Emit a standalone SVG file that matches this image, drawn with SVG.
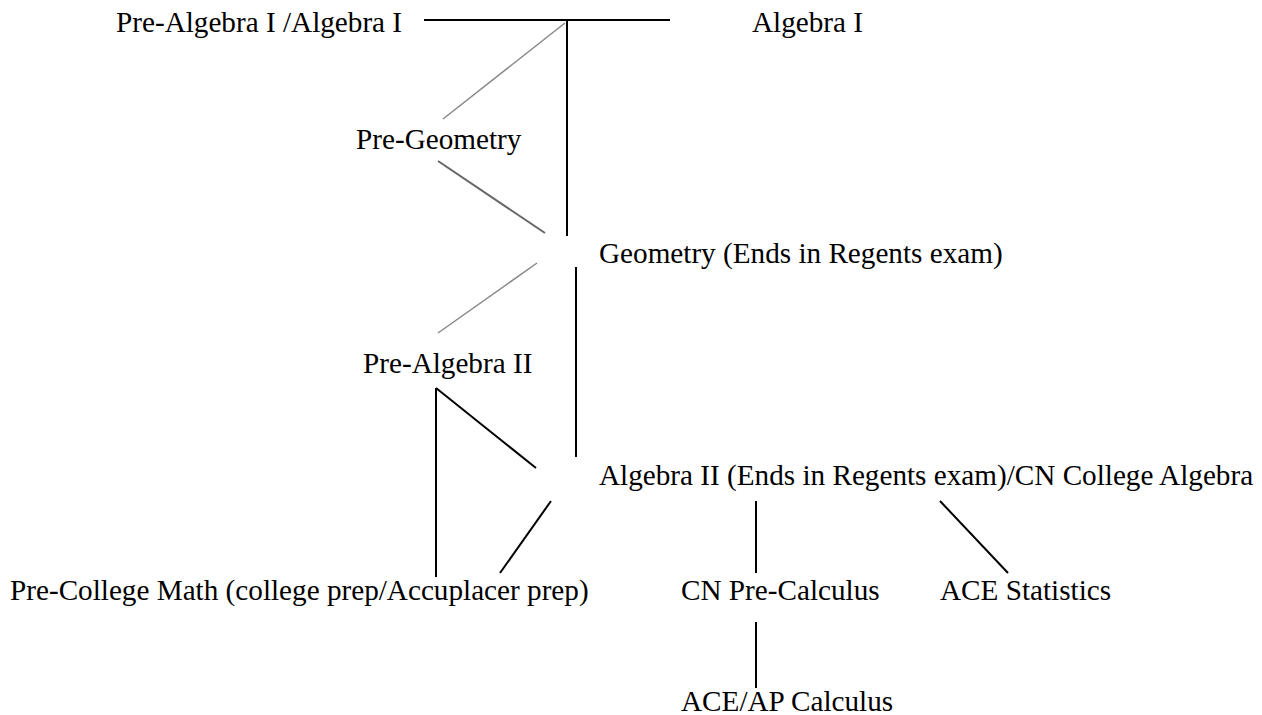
<svg xmlns="http://www.w3.org/2000/svg" width="1262" height="715" viewBox="0 0 1262 715">
<style>
text{font-family:"Liberation Serif","Times New Roman",serif;font-size:29.2px;fill:#000}
.k{stroke:#000;stroke-width:2;fill:none}
.g{stroke:#888;stroke-width:1.5;fill:none}
.g2{stroke:#666;stroke-width:2;fill:none}
</style>
<rect width="1262" height="715" fill="#fff"/>
<g id="connectors">
<line class="k" x1="424" y1="20" x2="670" y2="20" stroke-width="3"/>
<line class="k" x1="567" y1="20" x2="567" y2="236"/>
<line class="g" x1="565" y1="23" x2="443" y2="119"/>
<line class="g2" x1="438" y1="161" x2="545" y2="233"/>
<line class="g" x1="537" y1="263" x2="438" y2="333"/>
<line class="k" x1="576" y1="267" x2="576" y2="457"/>
<line class="k" x1="436" y1="388" x2="536" y2="468"/>
<line class="k" x1="436" y1="388" x2="436" y2="577"/>
<line class="k" x1="551" y1="501" x2="500" y2="573"/>
<line class="k" x1="756" y1="501" x2="756" y2="573"/>
<line class="k" x1="940" y1="501" x2="1008" y2="573"/>
<line class="k" x1="756" y1="622" x2="756" y2="688"/>
</g>
<g id="n-prealg1"><text x="116" y="32">Pre-Algebra I /Algebra I</text></g>
<g id="n-alg1"><text x="752" y="32">Algebra I</text></g>
<g id="n-pregeo"><text x="356" y="149">Pre-Geometry</text></g>
<g id="n-geo"><text x="599" y="263">Geometry (Ends in Regents exam)</text></g>
<g id="n-prealg2"><text x="363" y="373">Pre-Algebra II</text></g>
<g id="n-alg2"><text x="599" y="485">Algebra II (Ends in Regents exam)/CN College Algebra</text></g>
<g id="n-precollege"><text x="10" y="600">Pre-College Math (college prep/Accuplacer prep)</text></g>
<g id="n-precalc"><text x="681" y="600">CN Pre-Calculus</text></g>
<g id="n-stats"><text x="940" y="600">ACE Statistics</text></g>
<g id="n-calc"><text x="681" y="711">ACE/AP Calculus</text></g>
</svg>
